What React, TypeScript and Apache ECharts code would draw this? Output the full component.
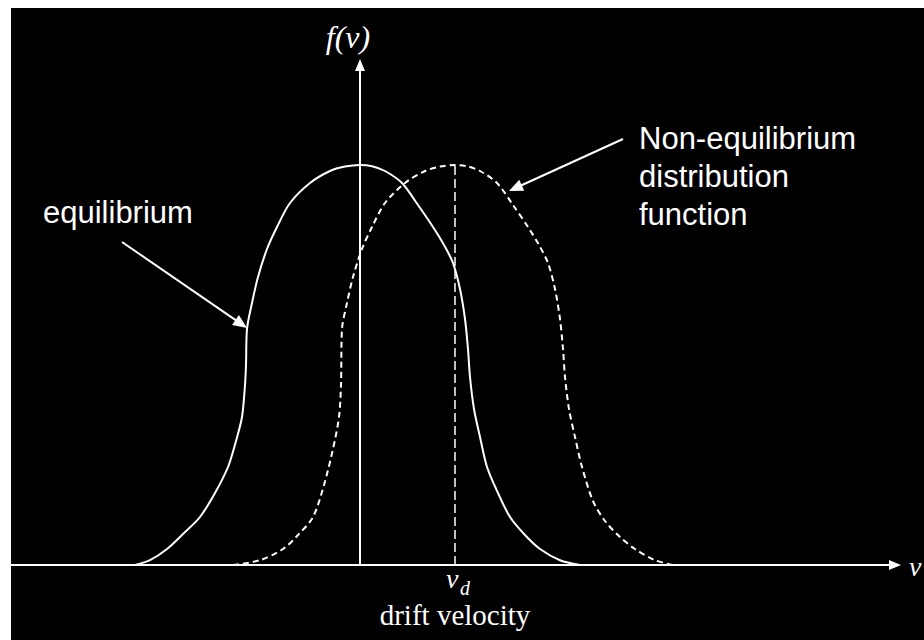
import React, { useEffect, useRef } from "react";
import * as echarts from "echarts";

// Equilibrium distribution f(v) (v in arbitrary units, f normalised to peak 1)
const eqV = [-2.25, -2.1, -1.93, -1.76, -1.6, -1.45, -1.32, -1.24, -1.18, -1.15, -1.14, -1.13, -1.08, -1.02, -0.93, -0.83, -0.7, -0.5, -0.3, -0.15, 0, 0.12, 0.25, 0.42, 0.58, 0.73, 0.84, 0.93, 1.0, 1.05, 1.08, 1.1, 1.14, 1.2, 1.27, 1.38, 1.5, 1.65, 1.8, 2.0, 2.2];
const eqF = [0, 0.012, 0.04, 0.08, 0.12, 0.18, 0.245, 0.31, 0.37, 0.45, 0.5, 0.59, 0.655, 0.72, 0.79, 0.845, 0.905, 0.955, 0.985, 0.996, 1.0, 0.997, 0.985, 0.955, 0.9, 0.845, 0.8, 0.755, 0.69, 0.615, 0.54, 0.47, 0.39, 0.32, 0.245, 0.18, 0.12, 0.075, 0.04, 0.012, 0];

// Non-equilibrium (drifted) distribution
const drV = [-1.27, -1.0, -0.77, -0.62, -0.47, -0.36, -0.27, -0.21, -0.19, -0.18, -0.13, -0.07, 0.02, 0.12, 0.25, 0.45, 0.65, 0.8, 0.95, 1.07, 1.2, 1.37, 1.53, 1.68, 1.79, 1.88, 1.95, 2.0, 2.03, 2.05, 2.09, 2.15, 2.22, 2.33, 2.45, 2.6, 2.75, 2.95, 3.13];
const drF = [0, 0.012, 0.04, 0.075, 0.12, 0.2, 0.29, 0.37, 0.45, 0.59, 0.655, 0.72, 0.79, 0.845, 0.905, 0.955, 0.985, 0.996, 1.0, 0.997, 0.985, 0.955, 0.9, 0.845, 0.8, 0.755, 0.69, 0.615, 0.54, 0.47, 0.39, 0.32, 0.245, 0.16, 0.11, 0.07, 0.04, 0.012, 0];

const driftVelocity = 0.95;
const driftPeak = 1.0;

const xRange = [-3.49, 5.35];
const yRange = [0, 1.25];

function arrow(x1: number, y1: number, x2: number, y2: number) {
  const dx = x2 - x1, dy = y2 - y1;
  const len = Math.sqrt(dx * dx + dy * dy);
  const ux = dx / len, uy = dy / len;
  const hl = 14, hw = 6;
  const bx = x2 - ux * hl, by = y2 - uy * hl;
  return [
    { type: "line", shape: { x1, y1, x2: bx + ux * 2, y2: by + uy * 2 }, style: { stroke: "#fff", lineWidth: 2 } },
    {
      type: "polygon",
      shape: { points: [[x2, y2], [bx - uy * hw, by + ux * hw], [bx + uy * hw, by - ux * hw]] },
      style: { fill: "#fff" },
    },
  ];
}

export default function App() {
  const ref = useRef<HTMLDivElement>(null);
  useEffect(() => {
    if (!ref.current) return;
    const chart = echarts.init(ref.current, undefined, { renderer: "svg" });
    const sans = "'Liberation Sans', Arial, sans-serif";
    const serif = "'Liberation Serif', 'Times New Roman', serif";
    const txt = (text: string, x: number, y: number, size: number, family: string, italic = false, align = "left") => ({
      type: "text",
      x,
      y,
      style: {
        text,
        fill: "#fff",
        fontSize: size,
        fontFamily: family,
        fontStyle: italic ? "italic" : "normal",
        textAlign: align,
        textVerticalAlign: "middle",
      },
    });
    chart.setOption({
      animation: false,
      backgroundColor: "#000",
      grid: { left: 0, right: 29, top: 57, bottom: 75 },
      xAxis: {
        type: "value",
        min: xRange[0],
        max: xRange[1],
        axisLine: { show: true, lineStyle: { color: "#fff", width: 2 }, symbol: ["none", "triangle"], symbolSize: [10, 12] },
        axisTick: { show: false },
        axisLabel: { show: false },
        splitLine: { show: false },
      },
      yAxis: {
        type: "value",
        min: yRange[0],
        max: yRange[1],
        axisLine: { show: true, onZero: true, lineStyle: { color: "#fff", width: 2 }, symbol: ["none", "triangle"], symbolSize: [10, 12] },
        axisTick: { show: false },
        axisLabel: { show: false },
        splitLine: { show: false },
      },
      series: [
        {
          name: "equilibrium",
          type: "line",
          data: eqV.map((v, i) => [v, eqF[i]]),
          smooth: 0.3,
          showSymbol: false,
          lineStyle: { color: "#fff", width: 2 },
          z: 3,
        },
        {
          name: "non-equilibrium",
          type: "line",
          data: drV.map((v, i) => [v, drF[i]]),
          smooth: 0.3,
          showSymbol: false,
          lineStyle: { color: "#fff", width: 2, type: [6, 4] },
          z: 3,
          markLine: {
            silent: true,
            symbol: ["none", "none"],
            label: { show: false },
            lineStyle: { color: "#fff", width: 1.5, type: [9, 4] },
            data: [[{ coord: [driftVelocity, 0] }, { coord: [driftVelocity, driftPeak] }]],
          },
        },
      ],
      graphic: [
        txt("f(v)", 337, 29, 32, serif, true, "center"),
        txt("v", 898, 558, 28, serif, true),
        txt("v", 435, 570, 28, serif, true),
        txt("d", 449, 580, 20, serif, true),
        txt("drift velocity", 444, 607, 29, serif, false, "center"),
        txt("equilibrium", 32, 204, 31, sans),
        txt("Non-equilibrium", 628, 130, 31, sans),
        txt("distribution", 628, 168, 31, sans),
        txt("function", 628, 206, 31, sans),
        ...arrow(111, 234, 236, 320),
        ...arrow(612, 131, 498, 183),
      ],
    });
    return () => chart.dispose();
  }, []);
  return (
    <div
      ref={ref}
      style={{ position: "absolute", left: 11, top: 8, width: 913, height: 632 }}
    />
  );
}
